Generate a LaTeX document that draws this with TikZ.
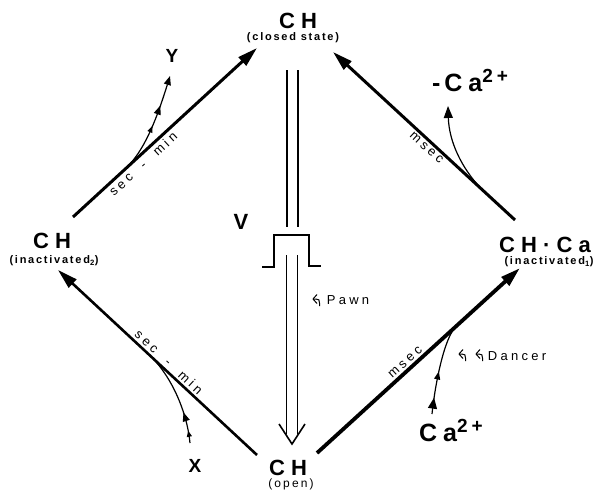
\documentclass[tikz,border=0pt]{standalone}
\usepackage{fontspec}
\setmainfont{Liberation Sans}
\usetikzlibrary{arrows.meta,decorations.markings}
\tikzset{
  state/.style={inner sep=0pt, font=\fontsize{22}{22}\selectfont\bfseries\addfontfeature{LetterSpace=28}},
  sub/.style={inner sep=0pt, font=\fontsize{11}{11}\selectfont\bfseries\addfontfeature{LetterSpace=16}},
  subreg/.style={inner sep=0pt, font=\fontsize{12}{12}\selectfont\addfontfeature{LetterSpace=18}},
  ion/.style={inner sep=0pt, font=\fontsize{25}{25}\selectfont\bfseries\addfontfeature{LetterSpace=24}},
  letter/.style={inner sep=0pt, font=\fontsize{19}{19}\selectfont\bfseries},
  lbl/.style={inner sep=2pt, font=\fontsize{13}{13}\selectfont\addfontfeature{LetterSpace=26}},
  mut/.style={inner sep=0pt, font=\fontsize{13}{13}\selectfont\addfontfeature{LetterSpace=25}},
  mainarr/.style={-{Triangle[length=20pt,width=11pt]}},
  branch/.style={line width=1.2pt},
  dbl/.style={line width=1.6pt},
  hooksym/.pic={
    \draw[line width=1pt, line join=round] (4,-4.5) -- (0,0) -- (4,4.5);
    \draw[line width=1pt] (0,0) -- (3,0) .. controls (6,0) and (6.5,1) .. (6.5,4) -- (6.5,7);
  }
}
\begin{document}
\begin{tikzpicture}[x=1pt,y=-1pt]
\useasboundingbox (0,0) rectangle (593,493);
\fill[white] (0,0) rectangle (593,493);

% state nodes
\node[state] (closed) at (298,21) {CH};
\node[sub] (closedsub) at (293,38) {(closed state)};
\node[state] (inact2) at (52,241) {CH};
\node[sub] (inact2sub) at (54,261) {(inactivated\textsubscript{2})};
\node[state] (inact1) at (545,245) {CH·Ca};
\node[sub] (inact1sub) at (549,262) {(inactivated\textsubscript{1})};
\node[state] (open) at (288,468) {CH};
\node[subreg] (opensub) at (291,484) {(open)};

% side labels
\node[letter] (Y) at (172,56) {Y};
\node[letter] (X) at (195,466) {X};
\node[state] (V) at (241,222) {V};
\node[ion] (caout) at (470,80) {-\hspace{4pt}Ca\raisebox{9pt}{\fontsize{19}{19}\selectfont 2\hspace{4pt}+}};
\node[ion] (cain) at (451,430) {Ca\raisebox{9pt}{\fontsize{19}{19}\selectfont 2\hspace{4pt}+}};
\node[mut] (pawn) at (348,300) {Pawn};
\node[mut] (dancer) at (517,356) {Dancer};

% connector end points
\coordinate (ulA) at (73,217);  \coordinate (ulB) at (257,48);
\coordinate (urA) at (515,220); \coordinate (urB) at (333,52);
\coordinate (llA) at (257,455); \coordinate (llB) at (58,270);
\coordinate (lrA) at (317,453); \coordinate (lrB) at (520,268);

% main transitions
\draw[mainarr, line width=3pt] (ulA) -- (ulB)
  node[lbl, sloped, below, pos=0.35] {sec\ \ -\ \ min};
\draw[mainarr, line width=3pt] (urA) -- (urB)
  node[lbl, sloped, below, pos=0.46] {msec};
\draw[mainarr, line width=2.6pt] (llA) -- (llB)
  node[lbl, sloped, above, pos=0.47] {sec\ \ -\ \ min};
\draw[mainarr, line width=3.8pt] (lrA) -- (lrB)
  node[lbl, sloped, above, pos=0.46] {msec};

% branches
\coordinate (yfrom) at (130,164); \coordinate (ytip) at (170,76);
\draw[branch, -{Triangle[length=9pt,width=7pt]}, postaction={decorate},
  decoration={markings,
    mark=at position 0.46 with {\arrow{Triangle[length=7pt,width=5pt]}},
    mark=at position 0.68 with {\arrow{Triangle[length=9pt,width=7pt]}}}]
  (yfrom) .. controls (146,146) and (157,118) .. (ytip);

\coordinate (cfrom) at (480,187.5); \coordinate (ctip) at (448,106);
\draw[branch, -{Triangle[length=12pt,width=9pt]}]
  (cfrom) .. controls (462,168) and (449,142) .. (ctip);

\coordinate (xfrom) at (190,443); \coordinate (xto) at (152,357.5);
\draw[branch, postaction={decorate},
  decoration={markings,
    mark=at position 0.13 with {\arrow{Triangle[length=6pt,width=5pt]}},
    mark=at position 0.33 with {\arrow{Triangle[length=9pt,width=7pt]}}}]
  (xfrom) .. controls (187,412) and (172,378) .. (xto);

\coordinate (kfrom) at (432,414); \coordinate (kto) at (456,326.5);
\draw[branch, postaction={decorate},
  decoration={markings,
    mark=at position 0.18 with {\arrow{Triangle[length=11pt,width=9pt]}},
    mark=at position 0.47 with {\arrow{Triangle[length=8pt,width=6pt]}}}]
  (kfrom) .. controls (435,385) and (444,338) .. (kto);

% voltage step and double arrow
\draw[dbl] (287,70) -- (287,227);
\draw[dbl] (298,70) -- (298,227);
\draw[line width=2pt] (262,267) -- (274,267) -- (274,235) -- (309,235) -- (309,266) -- (321,266);
\draw[dbl] (286.5,255) -- (286.5,434);
\draw[dbl] (297.5,255) -- (297.5,434);
\draw[dbl, line join=miter] (279,424) -- (292,444) -- (305,424);

% mutant symbols
\pic at (313,299) {hooksym};
\pic at (459,354) {hooksym};
\pic at (476,354) {hooksym};
\end{tikzpicture}
\end{document}
